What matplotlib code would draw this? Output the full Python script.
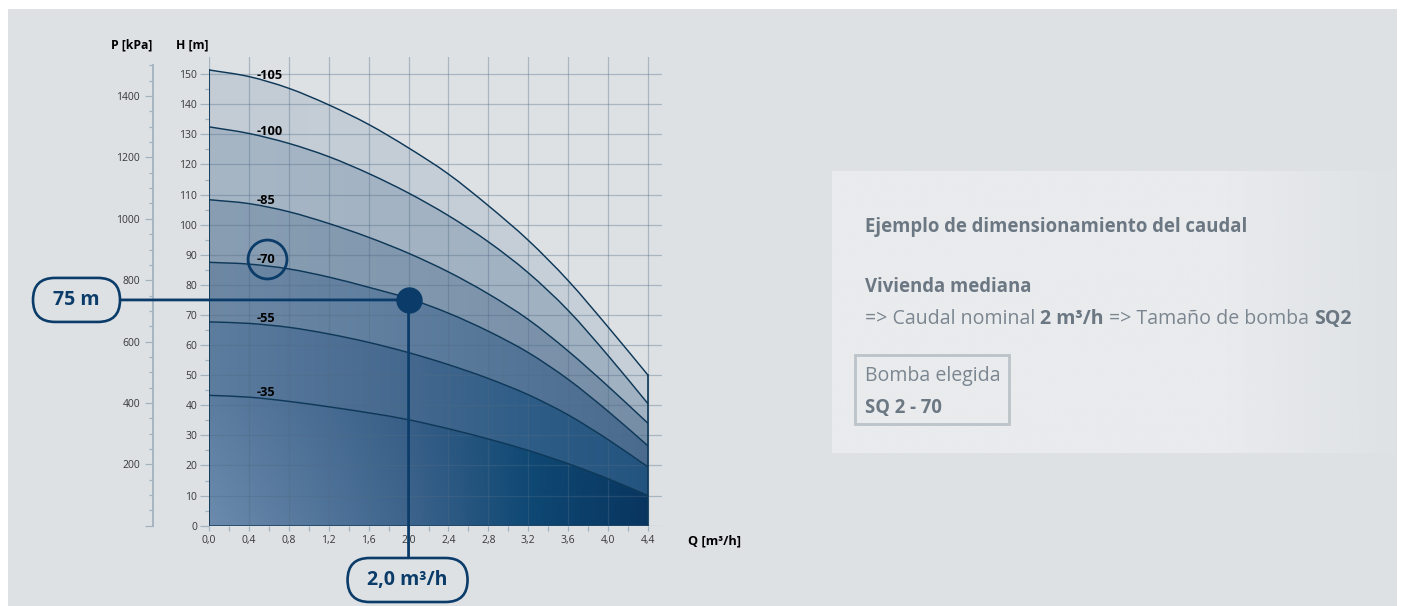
import numpy as np
import matplotlib
matplotlib.use("Agg")
import matplotlib.pyplot as plt
import matplotlib.colors as mcolors
from matplotlib.patches import FancyBboxPatch, Rectangle, PathPatch
from matplotlib.path import Path
from matplotlib.ticker import FixedLocator, FuncFormatter

plt.rcParams['font.family'] = ['Open Sans', 'DejaVu Sans']

# ---------------- data ----------------
# flow rate Q [m3/h]
flow = [0.0, 0.4, 0.8, 1.2, 1.6, 2.0, 2.4, 2.8, 3.2, 3.6, 4.0, 4.4]
# head H [m] of each pump variant
head_105 = [151.4, 149.2, 145.3, 139.8, 133.3, 125.5, 116.8, 106.3, 94.8, 81.4, 66.0, 50.0]
head_100 = [132.5, 130.3, 127.0, 122.6, 117.0, 110.5, 103.0, 94.3, 84.0, 71.5, 56.5, 40.5]
head_85 = [108.3, 107.0, 104.3, 100.4, 95.8, 90.5, 84.3, 77.0, 68.5, 58.0, 46.3, 34.0]
head_70 = [87.5, 86.9, 85.3, 82.6, 79.2, 75.5, 70.6, 64.6, 57.5, 48.6, 38.0, 26.5]
head_55 = [67.7, 67.2, 65.9, 63.7, 60.9, 57.5, 53.5, 48.9, 43.5, 36.8, 28.6, 19.5]
head_35 = [43.3, 42.7, 41.3, 39.5, 37.5, 35.2, 32.2, 28.8, 25.0, 20.6, 15.6, 10.0]
curve_labels = ['-105', '-100', '-85', '-70', '-55', '-35']
highlighted = '-70'

# duty point
duty_flow = 2.0
duty_head = 75

# axis ticks
q_ticks = [0.0, 0.4, 0.8, 1.2, 1.6, 2.0, 2.4, 2.8, 3.2, 3.6, 4.0, 4.4]
h_ticks = list(range(0, 151, 10))
p_ticks = [0, 200, 400, 600, 800, 1000, 1200, 1400]

# side panel text
panel_title = 'Ejemplo de dimensionamiento del caudal'
panel_case = 'Vivienda mediana'
panel_line = [('=> Caudal nominal', 'normal'), ('2 m³/h', 'bold'),
              ('=> Tamaño de bomba', 'normal'), ('SQ2', 'bold')]
chosen_title = 'Bomba elegida'
chosen_pump = 'SQ 2 - 70'

# ---------------- style ----------------
W, H = 1404, 606
DPI = 100
BG = '#dde1e4'
NAVY = '#0b3c69'
LINE = '#0e3858'
GRID = '#4f6b85'
TICK = '#a2b2bf'
TXT = '#383838'
PANEL_BOLD = '#6b7782'
PANEL_REG = '#7b8690'

# band fills between consecutive curves, colour stops along Q
stop_q = [0.0, 2.0, 3.2, 4.4]
band_top = [
    ['#c3ccd5', '#c5ced7', '#c6cfd7', '#c7d0d8'],
    ['#a7b6c5', '#a3b3c3', '#a1b2c2', '#a0b1c1'],
    ['#899eb3', '#8198ae', '#7b92aa', '#768ea6'],
    ['#6e88a4', '#5e7d9e', '#537496', '#4a6b8e'],
    ['#5d7d9f', '#45688e', '#2e5d87', '#23547f'],
    ['#5c7c9f', '#365d86', '#114a74', '#0a3761'],
]
band_bottom = [
    ['#c3ccd5', '#c5ced7', '#c6cfd7', '#c7d0d8'],
    ['#a7b6c5', '#a3b3c3', '#a1b2c2', '#a0b1c1'],
    ['#899eb3', '#8198ae', '#7b92aa', '#768ea6'],
    ['#6e88a4', '#5e7d9e', '#537496', '#4a6b8e'],
    ['#5d7d9f', '#45688e', '#2e5d87', '#23547f'],
    ['#6c8bad', '#3e648c', '#0e4874', '#08355f'],
]


def fx(x):
    return x / W


def fy(y):
    return 1 - y / H


def bezier_segments(x, y):
    """Catmull-Rom spline through the points, as cubic Bezier control points."""
    pts = np.column_stack([x, y]).astype(float)
    ext = np.vstack([2 * pts[0] - pts[1], pts, 2 * pts[-1] - pts[-2]])
    verts = []
    for i in range(len(pts) - 1):
        p0, p1, p2, p3 = ext[i], ext[i + 1], ext[i + 2], ext[i + 3]
        verts += [p1 + (p2 - p0) / 6, p2 - (p3 - p1) / 6, p2]
    return pts[0], verts


def curve_path(x, y):
    start, segs = bezier_segments(x, y)
    return Path([start] + segs, [Path.MOVETO] + [Path.CURVE4] * len(segs))


def band_path(x, upper, lower):
    start, segs = bezier_segments(x, upper)
    verts = [start] + segs
    codes = [Path.MOVETO] + [Path.CURVE4] * len(segs)
    if any(v != 0 for v in lower):
        lstart, lsegs = bezier_segments(x[::-1], lower[::-1])
        verts += [lstart] + lsegs
        codes += [Path.LINETO] + [Path.CURVE4] * len(lsegs)
    else:
        verts += [(x[-1], 0.0), (x[0], 0.0)]
        codes += [Path.LINETO, Path.LINETO]
    verts.append(start)
    codes.append(Path.CLOSEPOLY)
    return Path(verts, codes)


fig = plt.figure(figsize=(W / DPI, H / DPI), dpi=DPI)
fig.patch.set_facecolor('white')
fig.add_artist(Rectangle((fx(8), 0), fx(1397) - fx(8), fy(9), transform=fig.transFigure,
                         facecolor=BG, edgecolor='none', zorder=-10))

ax = fig.add_axes([fx(209), fy(525.7), (662 - 209) / W, (525.7 - 57) / H])
ax.set_facecolor('none')
ax.set_xlim(0, 4.54)
ax.set_ylim(0, 155.7)
for s in ax.spines.values():
    s.set_visible(False)

curves = [head_105, head_100, head_85, head_70, head_55, head_35]
q = np.array(flow)


def band_image(top, bottom, nx=300, ny=80):
    xs = np.linspace(0, q[-1], nx)
    top_rgb = np.array([mcolors.to_rgb(c) for c in top])
    bot_rgb = np.array([mcolors.to_rgb(c) for c in bottom])
    row_t = np.stack([np.interp(xs, stop_q, top_rgb[:, k]) for k in range(3)], axis=-1)
    row_b = np.stack([np.interp(xs, stop_q, bot_rgb[:, k]) for k in range(3)], axis=-1)
    f = np.linspace(0, 1, ny)[:, None, None]
    return row_t[None, :, :] * (1 - f) + row_b[None, :, :] * f


for i, upper in enumerate(curves):
    lower = curves[i + 1] if i + 1 < len(curves) else [0.0] * len(flow)
    patch = PathPatch(band_path(flow, upper, lower), facecolor='none', edgecolor='none')
    ax.add_patch(patch)
    top = max(upper) + 1
    im = ax.imshow(band_image(band_top[i], band_bottom[i]), extent=(0, q[-1], 0, top),
                   origin='upper', aspect='auto', interpolation='bilinear', zorder=1)
    im.set_clip_path(patch)

for hv in curves:
    ax.add_patch(PathPatch(curve_path(flow, hv), facecolor='none', edgecolor=LINE,
                           lw=1.05, zorder=3))
ax.plot([flow[0], flow[0]], [0, head_105[0]], color=LINE, lw=1.3, zorder=3)
ax.plot([flow[-1], flow[-1]], [0, head_105[-1]], color=LINE, lw=1.2, zorder=3)
ax.plot([flow[0], flow[-1]], [0, 0], color=LINE, lw=1.8, zorder=3, solid_capstyle='butt')

# grid and ticks
ax.set_axisbelow(False)
ax.set_xticks(q_ticks)
ax.xaxis.set_major_formatter(FuncFormatter(lambda v, p: f'{v:.1f}'.replace('.', ',')))
ax.xaxis.set_minor_locator(FixedLocator([t + 0.2 for t in q_ticks[:-1]]))
ax.set_yticks(h_ticks)
ax.yaxis.set_minor_locator(FixedLocator([t + 5 for t in h_ticks[:-1]]))
ax.grid(True, which='major', color=GRID, alpha=0.36, lw=0.9)
ax.tick_params(axis='x', which='both', direction='out', length=3.6, width=0.9, color=TICK,
               labelsize=7.5, labelcolor=TXT, pad=3)
ax.tick_params(axis='y', which='major', direction='out', length=6.3, width=0.9, color=TICK,
               labelsize=7.5, labelcolor=TXT, pad=2.2)
ax.tick_params(axis='y', which='minor', direction='out', length=3.2, width=0.9, color=TICK)

# pressure scale
sec = ax.secondary_yaxis((153 - 209) / (662 - 209),
                         functions=(lambda h: h * 9.81, lambda p: p / 9.81))
sec.set_yticks(p_ticks)
sec.set_yticklabels([''] + [str(p) for p in p_ticks[1:]])
sec.yaxis.set_minor_locator(FixedLocator([p for p in range(50, 1501, 50) if p % 200]))
sec.spines['left'].set_color(TICK)
sec.spines['left'].set_linewidth(1.3)
sec.spines['left'].set_bounds(0, 1500)
sec.tick_params(which='major', length=5.8, width=0.9, color=TICK, labelsize=7.5,
                labelcolor=TXT, pad=3.6)
sec.tick_params(which='minor', length=2.9, width=0.9, color=TICK)

# axis titles
fig.text(fx(132), fy(45), 'P [kPa]', ha='center', va='center', fontsize=8.8,
         fontweight='bold', color='black')
fig.text(fx(192), fy(45), 'H [m]', ha='center', va='center', fontsize=8.8,
         fontweight='bold', color='black')
fig.text(fx(714), fy(541), 'Q [m³/h]', ha='center', va='center', fontsize=9.2,
         fontweight='bold', color='black')

# curve names
label_q = 0.478
for name, hv in zip(curve_labels, curves):
    ly = np.interp(0.6, flow, hv) + 2.4
    ax.text(label_q, ly, name, ha='left', va='center', fontsize=9.2, fontweight='bold',
            color='black', zorder=5)
    if name == highlighted:
        ax.plot(label_q + 0.1, ly, 'o', ms=28, mfc='none', mec=NAVY, mew=2.0, zorder=6)

# duty point and its readouts
ax.plot(duty_flow, duty_head, 'o', ms=18, color=NAVY, zorder=8, clip_on=False)
ax.annotate('', xy=(duty_flow, duty_head), xycoords='data',
            xytext=(120, duty_head), textcoords=('figure pixels', 'data'),
            arrowprops=dict(arrowstyle='-', color=NAVY, lw=2.0, shrinkA=0, shrinkB=0),
            zorder=7, annotation_clip=False)
ax.annotate('', xy=(duty_flow, duty_head), xycoords='data',
            xytext=(duty_flow, 48), textcoords=('data', 'figure pixels'),
            arrowprops=dict(arrowstyle='-', color=NAVY, lw=2.0, shrinkA=0, shrinkB=0),
            zorder=7, annotation_clip=False)

dx, dy = ax.transData.transform((duty_flow, duty_head))
pill_h = 44
fig.add_artist(FancyBboxPatch((33 / DPI, (dy - pill_h / 2) / DPI), 87 / DPI, pill_h / DPI,
                              boxstyle=f'round,pad=0,rounding_size={pill_h / 2 / DPI}',
                              transform=fig.dpi_scale_trans, facecolor=BG, edgecolor=NAVY,
                              lw=1.9, zorder=9))
fig.text(76.5 / W, dy / H, f'{duty_head} m', ha='center', va='center', fontsize=14,
         fontweight='bold', color=NAVY, zorder=10)
fig.add_artist(FancyBboxPatch(((dx - 61) / DPI, 4 / DPI), 120 / DPI, pill_h / DPI,
                              boxstyle=f'round,pad=0,rounding_size={pill_h / 2 / DPI}',
                              transform=fig.dpi_scale_trans, facecolor=BG, edgecolor=NAVY,
                              lw=1.9, zorder=9))
fig.text((dx - 1) / W, 26 / H, f'{duty_flow:.1f}'.replace('.', ',') + ' m³/h', ha='center',
         va='center', fontsize=14, fontweight='bold', color=NAVY, zorder=10)

# side panel
pax = fig.add_axes([fx(832), fy(453), (1397 - 832) / W, (453 - 171) / H])
pax.set_zorder(-5)
pax.axis('off')
grad = np.ones((2, 400, 4))
grad[..., :3] = mcolors.to_rgb('#e9ebed')
xs = np.linspace(0, 1, 400)
grad[..., 3] = np.clip(1 - (xs - 0.7) / 0.3 * 0.9, 0.1, 1)[None, :]
pax.imshow(grad, extent=(0, 1, 0, 1), aspect='auto', interpolation='bilinear')
pax.set_xlim(0, 1)
pax.set_ylim(0, 1)

renderer = fig.canvas.get_renderer()


def width_of(s, size, weight):
    t = fig.text(0, 0, s, fontsize=size, fontweight=weight)
    w = t.get_window_extent(renderer).width
    t.remove()
    return w


def runs_width(runs, size):
    gap = width_of('a a', size, 'normal') - width_of('aa', size, 'normal')
    return sum(width_of(s, size, w) for s, w in runs) + gap * (len(runs) - 1), gap


bold_size = 10 * 382 / width_of(panel_title, 10, 'bold')
w10, _ = runs_width(panel_line, 10)
reg_size = 10 * 486 / w10

x0 = 865
fig.text(fx(x0), fy(231.7), panel_title, fontsize=bold_size, fontweight='bold',
         color=PANEL_BOLD, va='baseline', ha='left')
fig.text(fx(x0), fy(291.7), panel_case, fontsize=bold_size, fontweight='bold',
         color=PANEL_BOLD, va='baseline', ha='left')
_, gap = runs_width(panel_line, reg_size)
xc = x0
for s, wgt in panel_line:
    t = fig.text(fx(xc), fy(324), s, fontsize=reg_size, fontweight=wgt,
                 color=PANEL_BOLD if wgt == 'bold' else PANEL_REG, va='baseline', ha='left')
    xc += t.get_window_extent(renderer).width + gap

fig.add_artist(Rectangle((fx(855), fy(424)), (1009 - 855) / W, (424 - 355) / H,
                         transform=fig.transFigure, facecolor='none', edgecolor='#bcc3c9',
                         lw=2.0, zorder=2))
fig.text(fx(x0), fy(380.7), chosen_title, fontsize=reg_size, color=PANEL_REG,
         va='baseline', ha='left')
fig.text(fx(x0), fy(412.7), chosen_pump, fontsize=bold_size, fontweight='bold',
         color=PANEL_BOLD, va='baseline', ha='left')

fig.savefig('out.png', dpi=DPI, facecolor=fig.get_facecolor())
